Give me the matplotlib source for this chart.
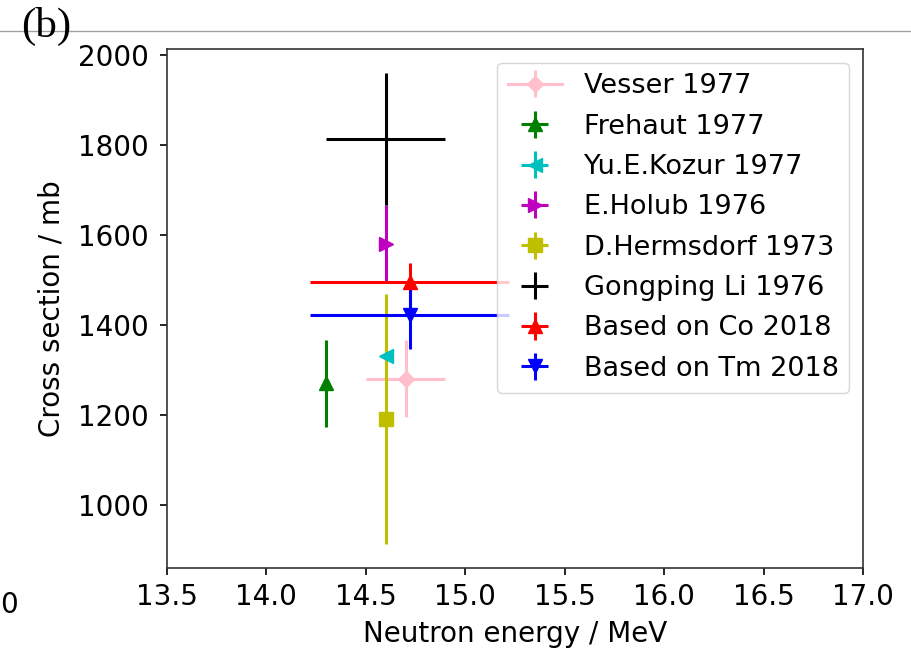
import matplotlib.pyplot as plt
from matplotlib.lines import Line2D

labels = ['Vesser 1977', 'Frehaut 1977', 'Yu.E.Kozur 1977', 'E.Holub 1976',
          'D.Hermsdorf 1973', 'Gongping Li 1976', 'Based on Co 2018', 'Based on Tm 2018']
energy = [14.70, 14.30, 14.60, 14.60, 14.60, 14.60, 14.72, 14.72]
energyErr = [0.20, 0.0, 0.0, 0.0, 0.0, 0.30, 0.50, 0.50]
xsec = [1280, 1270, 1330, 1580, 1190, 1813, 1494, 1421]
xsecErr = [86, 97, 30, 85, 278, 147, 42, 74]
colors = ['pink', 'g', 'c', 'm', 'y', 'k', 'r', 'b']
fmts = ['-D', '^', '<', '>', 's', 'none', '^', 'v']
sizes = [8, 10, 10, 10, 10, 10, 10, 10]

fig = plt.figure(figsize=(9.12, 6.54), dpi=100)
ax = fig.add_axes([0.1831, 0.1315, 0.7632, 0.7936])

for i in range(len(labels)):
    ax.errorbar(energy[i], xsec[i], xerr=energyErr[i], yerr=xsecErr[i], fmt=fmts[i],
                color=colors[i], ms=sizes[i], elinewidth=2.2, lw=2.2, label=labels[i])

ax.set_xlim(13.5, 17.0)
ax.set_xticks([13.5, 14.0, 14.5, 15.0, 15.5, 16.0, 16.5, 17.0])
ax.tick_params(labelsize=20, length=5, width=1.2)
ax.tick_params(axis='x', pad=6)
ax.tick_params(axis='y', pad=8)
for s in ax.spines.values():
    s.set_linewidth(1.2)
    s.set_color('#333333')
ax.set_xlabel('Neutron energy / MeV', fontsize=20, labelpad=6)
ax.set_ylabel('Cross section / mb', fontsize=20, labelpad=9)
ax.legend(fontsize=19.5, labelspacing=0.53)

# pieces of the surrounding page that show in the crop
fig.add_artist(Line2D([0, 1], [1 - 31 / 654, 1 - 31 / 654], color='#a0a0a0', lw=1))
fig.text(21 / 912, 1 - 37 / 654, '(b)', fontsize=31, family='Liberation Serif', va='baseline')
fig.text(0, 1 - 605 / 654, '0', fontsize=20, ha='left', va='center')

plt.savefig('out.png')
